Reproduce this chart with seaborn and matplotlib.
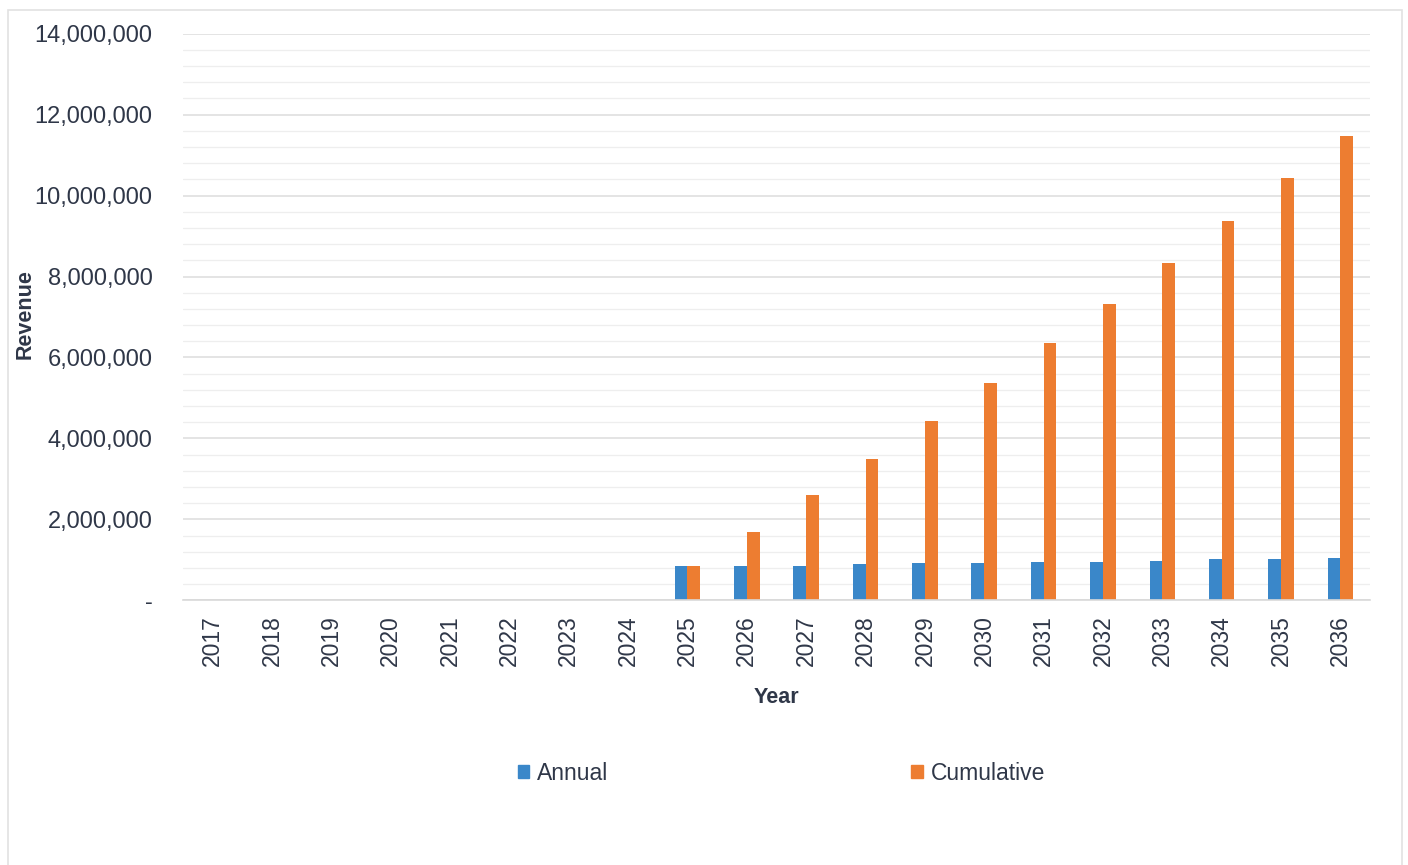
import matplotlib
matplotlib.use("Agg")
import matplotlib.pyplot as plt
from matplotlib.ticker import FuncFormatter, MultipleLocator
from matplotlib.patches import Rectangle
import seaborn as sns
import pandas as pd

years = [str(y) for y in range(2017, 2037)]
annual = [0, 0, 0, 0, 0, 0, 0, 0,
          840000, 850000, 860000, 890000, 920000, 930000,
          950000, 950000, 980000, 1020000, 1030000, 1050000]
cumulative = [0, 0, 0, 0, 0, 0, 0, 0,
              840000, 1700000, 2590000, 3500000, 4430000, 5380000,
              6370000, 7330000, 8340000, 9380000, 10430000, 11470000]
series_names = ["Annual", "Cumulative"]
series_colors = ["#3a87c9", "#ed7d31"]

df = pd.DataFrame({
    "Year": years * 2,
    "Revenue": annual + cumulative,
    "Series": [series_names[0]] * len(years) + [series_names[1]] * len(years),
})

sns.set_theme(style="white")
plt.rcParams["font.family"] = ["Liberation Sans", "DejaVu Sans"]
text_color = "#2f3748"

fig = plt.figure(figsize=(14.08, 8.65), dpi=100)
ax = fig.add_axes([0.130, 0.306, 0.843, 0.655])

sns.barplot(data=df, x="Year", y="Revenue", hue="Series",
            palette=series_colors, width=0.43, dodge=True,
            saturation=1, linewidth=0, ax=ax, legend=False)

ax.set_ylim(0, 14000000)
ax.yaxis.set_major_locator(MultipleLocator(2000000))
ax.yaxis.set_minor_locator(MultipleLocator(400000))
ax.yaxis.set_major_formatter(
    FuncFormatter(lambda v, p: "-" if v == 0 else f"{int(v):,}"))
ax.grid(axis="y", which="major", color="#dcdcdc", linewidth=1.1)
ax.grid(axis="y", which="minor", color="#eeeeee", linewidth=0.9)
ax.set_axisbelow(True)
for s in ["top", "right", "left"]:
    ax.spines[s].set_visible(False)
ax.spines["bottom"].set_color("#d9d9d9")
ax.spines["bottom"].set_linewidth(1.2)

ax.tick_params(axis="y", which="both", length=0, pad=22,
               labelsize=17, labelcolor=text_color)
ax.tick_params(axis="x", length=0, pad=11, labelsize=16.5,
               labelcolor=text_color, rotation=90)
ax.set_xlim(-0.5, len(years) - 0.5)

ax.set_xlabel("Year", fontsize=15.5, fontweight="bold", color=text_color,
              labelpad=15)
ax.set_ylabel("Revenue", fontsize=15.5, fontweight="bold", color=text_color)
ax.yaxis.set_label_coords(-0.124, 0.505)

handles = [Rectangle((0, 0), 1, 1, color=c) for c in series_colors]
fig.legend(handles, series_names, loc="center", bbox_to_anchor=(0.555, 0.106),
           ncol=2, frameon=False, fontsize=16.5, handlelength=0.5,
           handleheight=0.5, handletextpad=0.35, columnspacing=13.2,
           labelcolor=text_color)

# chart area border
fig.add_artist(Rectangle((0.006, -0.01), 0.99, 0.998, transform=fig.transFigure,
                         fill=False, edgecolor="#e2e2e2", linewidth=1.2))

fig.savefig("out.png", dpi=100)
